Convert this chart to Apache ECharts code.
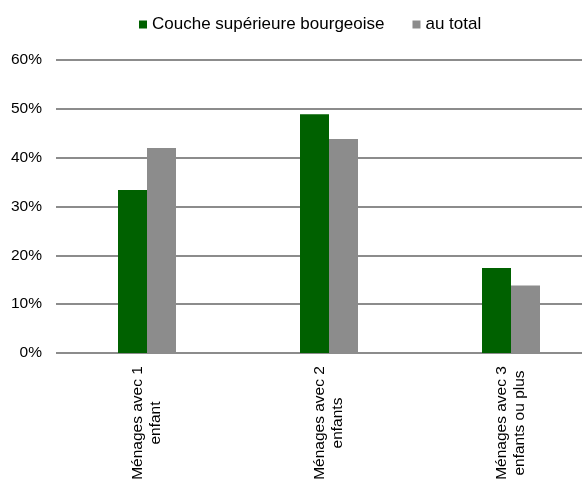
<!DOCTYPE html>
<html>
<head>
<meta charset="utf-8">
<script src="https://cdn.jsdelivr.net/npm/echarts@6/dist/echarts.min.js"></script>
<style>
  html, body { margin: 0; padding: 0; background: #fff; }
  #box { width: 582px; height: 482px; }
</style>
</head>
<body>
<div id="box"></div>
<script>
// categories + values (in %)
var categories = ['Ménages avec 1\nenfant', 'Ménages avec 2\nenfants', 'Ménages avec 3\nenfants ou plus'];
var seriesNames = ['Couche supérieure bourgeoise', 'au total'];
var bourgeoise = [33.4, 48.9, 17.4];
var total = [42.0, 43.8, 13.8];

var font = '"Liberation Sans", Arial, sans-serif';

var myChart = echarts.init(document.getElementById('box'));
myChart.setOption({
    animation: false,
    textStyle: { fontFamily: font },
    legend: {
        top: 11,
        left: 134,
        itemWidth: 8,
        itemHeight: 8,
        itemGap: 28,
        icon: 'rect',
        textStyle: { fontSize: 17, color: '#000', fontFamily: font },
        data: seriesNames
    },
    // plot runs past the right edge of the picture
    grid: { left: 56, top: 60, height: 293, width: 546, outerBoundsMode: 'none', containLabel: false },
    xAxis: {
        type: 'category',
        data: categories,
        axisLine: { show: false },
        axisTick: { show: false },
        axisLabel: {
            rotate: 90,
            align: 'center',
            verticalAlign: 'middle',
            margin: 70,
            lineHeight: 18,
            fontSize: 15.5,
            color: '#000',
            fontFamily: font
        }
    },
    yAxis: {
        type: 'value',
        min: 0,
        max: 60,
        interval: 10,
        axisLine: { show: false },
        axisTick: { show: false },
        axisLabel: { formatter: '{value}%', fontSize: 15.5, color: '#000', margin: 14, fontFamily: font },
        splitLine: { lineStyle: { color: '#8c8c8c', width: 2 } }
    },
    series: [
        {
            name: seriesNames[0],
            type: 'bar',
            data: bourgeoise,
            barWidth: 29,
            barGap: '0%',
            itemStyle: { color: '#006100' }
        },
        {
            name: seriesNames[1],
            type: 'bar',
            data: total,
            barWidth: 29,
            itemStyle: { color: '#8c8c8c' }
        }
    ]
});
</script>
</body>
</html>
